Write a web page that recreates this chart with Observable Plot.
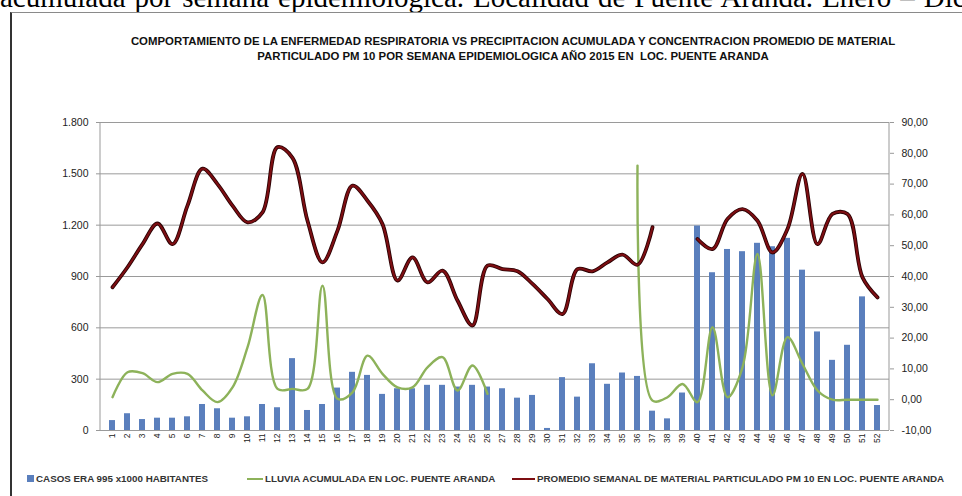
<!DOCTYPE html>
<html><head><meta charset="utf-8">
<script src="https://cdn.jsdelivr.net/npm/d3@7"></script>
<script src="https://cdn.jsdelivr.net/npm/@observablehq/plot@0.6"></script>
<style>
html,body{margin:0;padding:0;background:#fff;}
body{width:962px;height:496px;overflow:hidden;position:relative;font-family:"Liberation Sans",Arial,sans-serif;}
#top{position:absolute;left:0;top:-17px;white-space:nowrap;font-family:"Liberation Serif","Times New Roman",serif;font-size:29px;line-height:29px;word-spacing:1.7px;color:#000;}
#frame{position:absolute;left:10px;top:12px;width:1000px;height:600px;border-top:1px solid #8a8a8a;border-left:2px solid #333;}
#title{position:absolute;left:0;width:1026px;top:34px;text-align:center;font-weight:bold;font-size:11.4px;line-height:15px;color:#111;}
#chart{position:absolute;left:0;top:90px;}
.leg{position:absolute;top:473px;font-weight:bold;font-size:9.8px;line-height:11px;color:#333;white-space:nowrap;}
.sw{position:absolute;}
</style></head>
<body>
<div id="top">acumulada por semana epidemiológica. Localidad de Puente Aranda. Enero – Diciembre</div>
<div id="frame"></div>
<div id="title">COMPORTAMIENTO DE LA ENFERMEDAD RESPIRATORIA VS PRECIPITACION ACUMULADA Y CONCENTRACION PROMEDIO DE MATERIAL<br>PARTICULADO PM 10 POR SEMANA EPIDEMIOLOGICA AÑO 2015 EN &nbsp;LOC. PUENTE ARANDA</div>
<div id="chart"></div>
<div id="legend"></div>
<script>
const semanas = [1,2,3,4,5,6,7,8,9,10,11,12,13,14,15,16,17,18,19,20,21,22,23,24,25,26,27,28,29,30,31,32,33,34,35,36,37,38,39,40,41,42,43,44,45,46,47,48,49,50,51,52];
const casos = [58,98,64,72,72,80,152,127,72,80,152,133,420,117,152,248,340,322,211,244,244,264,264,254,264,254,244,189,205,12,309,195,390,270,336,316,113,68,219,1195,922,1058,1045,1094,1074,1123,937,576,410,498,781,146];
const lluvia = [0.8,8.9,8.6,5.7,8.4,8.4,3,-0.8,4,17,34,3.5,3.5,3.5,37,0.3,2.4,14.3,8.4,4,4,10.5,13.8,3,11.1,1.9,null,null,null,null,null,null,null,null,null,76,-0.3,0.8,5.1,-0.8,23.5,0.8,10.5,47.3,1.4,20.3,11.6,3,0,0,0,0];
const pm10 = [36.5,43,50.5,57.2,50.5,63,75,70,63,57.6,60.8,82,78.5,58.1,44.6,54.9,69.5,64.6,57,38.7,46.2,38.1,41.9,32.2,24.1,43.5,42.4,41.7,37.6,32.7,27.8,42.4,41.7,44.6,47.1,43.8,56,null,null,52.2,48.9,58.7,61.9,58.1,47.8,55.4,73.3,50.5,60.3,60.3,39.7,33.2];
const leftTicks = [0,300,600,900,1200,1500,1800];
const rightTicks = [-10,0,10,20,30,40,50,60,70,80,90];
const legendLabels = ["CASOS ERA 995 x1000 HABITANTES","LLUVIA ACUMULADA EN LOC. PUENTE ARANDA","PROMEDIO SEMANAL DE MATERIAL PARTICULADO PM 10 EN LOC. PUENTE ARANDA"];
const colors = {casos:"#5a7fbd", lluvia:"#8db25a", pm10:"#7d0e12"};

// right axis (-10..90) mapped onto left axis (0..1800)
const toLeft = v => (v == null ? NaN : (v + 10) * 18);
const fromLeft = d => d / 18 - 10;
const fmtLeft = d => d3.format(",")(d).replace(/,/g, ".");
const fmtRight = v => d3.format(".2f")(v).replace("−", "-").replace(".", ",");

const rows = semanas.map((s, i) => ({semana: s, casos: casos[i], lluvia: toLeft(lluvia[i]), pm10: toLeft(pm10[i])}));

const chart = Plot.plot({
  width: 962, height: 370,
  marginTop: 32, marginBottom: 30, marginLeft: 100, marginRight: 73,
  style: {fontFamily: "Liberation Sans, Arial, sans-serif", fontSize: "10.5px", color: "#222", background: "transparent"},
  x: {type: "band", domain: semanas, paddingInner: 0.62, paddingOuter: 0.31, label: null},
  y: {domain: [0, 1800], label: null},
  marks: [
    Plot.gridY(leftTicks, {stroke: "#9a9a9a", strokeOpacity: 1}),
    Plot.barY(rows, {x: "semana", y: "casos", fill: colors.casos}),
    Plot.line(rows, {x: "semana", y: "lluvia", stroke: colors.lluvia, strokeWidth: 2.4, curve: "catmull-rom"}),
    Plot.line(rows, {x: "semana", y: "pm10", stroke: "#2a0204", strokeWidth: 3.8, curve: "catmull-rom"}),
    Plot.line(rows, {x: "semana", y: "pm10", stroke: colors.pm10, strokeWidth: 2.1, curve: "catmull-rom"}),
    Plot.axisY(leftTicks, {anchor: "left", tickSize: 4, tickPadding: 8, tickFormat: fmtLeft, stroke: "#999", label: null}),
    Plot.axisY(rightTicks.map(toLeft), {anchor: "right", tickSize: 4, tickPadding: 8, tickFormat: d => fmtRight(fromLeft(d)), stroke: "#999", label: null}),
    Plot.axisX({tickRotate: -90, tickSize: 0, tickPadding: 3, fontSize: 8.5, label: null})
  ]
});
document.getElementById("chart").appendChild(chart);

// vertical axis lines at plot edges, from the library's own scales
const xr = chart.scale("x").range, yr = chart.scale("y").range;
const svg = d3.select(chart);
[xr[0], xr[1]].forEach(px => {
  svg.append("line").attr("x1", px).attr("x2", px).attr("y1", yr[0]).attr("y2", yr[1]).attr("stroke", "#999");
});

// legend
const leg = document.getElementById("legend");
const items = [
  {label: legendLabels[0], color: colors.casos, kind: "box", sx: 27, tx: 36},
  {label: legendLabels[1], color: colors.lluvia, kind: "line", sx: 247, tx: 265},
  {label: legendLabels[2], color: colors.pm10, kind: "line", sx: 512, tx: 537}
];
items.forEach(it => {
  const sw = document.createElement("div");
  sw.className = "sw";
  if (it.kind === "box") {
    Object.assign(sw.style, {left: it.sx + "px", top: "475px", width: "7px", height: "7px", background: it.color});
  } else {
    Object.assign(sw.style, {left: it.sx + "px", top: "478px", width: (it.tx - it.sx - 2) + "px", height: "2px", background: it.color});
  }
  leg.appendChild(sw);
  const t = document.createElement("div");
  t.className = "leg";
  t.style.left = it.tx + "px";
  t.textContent = it.label;
  leg.appendChild(t);
});
</script>
</body></html>
